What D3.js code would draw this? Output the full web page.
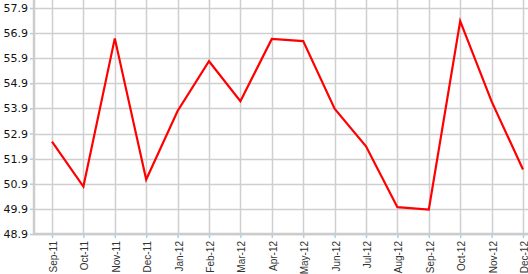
<!DOCTYPE html>
<html><head><meta charset="utf-8">
<script src="https://cdn.jsdelivr.net/npm/d3@7"></script>
<style>body{margin:0;background:#fff;}svg{display:block;}</style>
</head><body>
<svg id="c" width="528" height="274"></svg>
<script>
const categories = ["Sep-11","Oct-11","Nov-11","Dec-11","Jan-12","Feb-12","Mar-12","Apr-12","May-12","Jun-12","Jul-12","Aug-12","Sep-12","Oct-12","Nov-12","Dec-12"];
const values = [52.58,50.79,56.69,51.07,53.8,55.78,54.19,56.67,56.58,53.89,52.39,49.97,49.87,57.38,54.18,51.47];
const yTicks = [48.9,49.9,50.9,51.9,52.9,53.9,54.9,55.9,56.9,57.9];

(function(){
const W = 528, H = 274;
const axisX = 34, axisY = 234, topY = 8;
const svg = d3.select("#c");

const x = d3.scalePoint().domain(categories).range([52, 523]);
const y = d3.scaleLinear().domain([48.9, 57.9]).range([axisY, topY]);

// grid
const g = svg.append("g");
g.selectAll("line.h").data(yTicks).enter().append("line")
  .attr("x1", axisX).attr("x2", W)
  .attr("y1", d => Math.round(y(d)) + 0.5).attr("y2", d => Math.round(y(d)) + 0.5)
  .attr("stroke", "#cfcfcf").attr("stroke-width", 1.5);
g.selectAll("line.v").data(categories).enter().append("line")
  .attr("x1", d => Math.round(x(d)) + 0.5).attr("x2", d => Math.round(x(d)) + 0.5)
  .attr("y1", 0).attr("y2", axisY)
  .attr("stroke", "#cfcfcf").attr("stroke-width", 1.5);

// y axis
const ya = svg.append("g").attr("transform", `translate(${axisX},0)`)
  .call(d3.axisLeft(y).tickValues(yTicks).tickFormat(d3.format(".1f")).tickSize(4).tickPadding(2));
ya.select(".domain").remove();
ya.selectAll(".tick line").attr("stroke", "#9fd3f0").attr("stroke-width", 1.5);
ya.selectAll(".tick text").attr("fill", "#111").style("font-family", "DejaVu Sans").style("font-size", "11px");
svg.append("line").attr("x1", axisX).attr("x2", axisX).attr("y1", 0).attr("y2", axisY + 1)
  .attr("stroke", "#cccccc").attr("stroke-width", 2.5);

// x axis
const xa = svg.append("g").attr("transform", `translate(0,${axisY})`)
  .call(d3.axisBottom(x).tickSize(4).tickPadding(3));
xa.select(".domain").remove();
xa.selectAll(".tick line").attr("stroke", "#9fd3f0").attr("stroke-width", 1.5);
xa.selectAll(".tick text")
  .attr("fill", "#333").style("font-family", "Liberation Sans, Arial").style("font-size", "10px")
  .attr("transform", "rotate(-90)").attr("text-anchor", "end")
  .attr("x", -7).attr("y", 1).attr("dy", "0.35em");
svg.append("line").attr("x1", axisX - 1).attr("x2", W).attr("y1", axisY).attr("y2", axisY)
  .attr("stroke", "#cccccc").attr("stroke-width", 2.5);

// line
const line = d3.line().x((d, i) => x(categories[i])).y(d => y(d));
svg.append("path").datum(values).attr("d", line)
  .attr("fill", "none").attr("stroke", "#ff0000").attr("stroke-width", 2.2)
  .attr("stroke-linejoin", "miter");
})();
</script>
</body></html>
